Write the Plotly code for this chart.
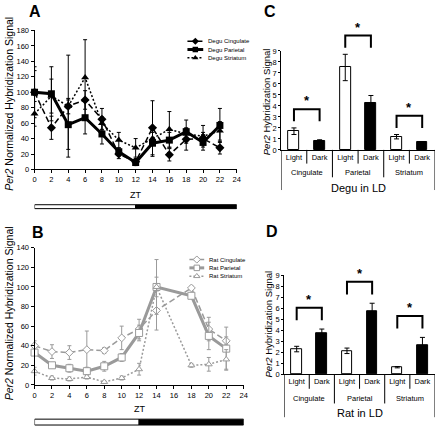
import plotly.graph_objects as go

W, H = 440, 431
FONT = "Liberation Sans, Arial, sans-serif"

# ---------------- data ----------------
# Panel A: Degu, Per2 normalized signal by ZT
zt_degu = [0, 2, 4, 6, 8, 10, 12, 14, 16, 18, 20, 22]
degu_cing = [100, 54, 82, 90, 65, 20, 10, 54, 19, 39, 40, 28]
degu_cing_err = [28, 15, 66, 12, 14, 6, 4, 35, 8, 14, 8, 8]
degu_par = [100, 98, 58, 67, 46, 23, 9, 34, 38, 49, 35, 57]
degu_par_err = [33, 35, 32, 21, 13, 5, 4, 17, 10, 15, 10, 22]
degu_str = [72, 95, 82, 119, 60, 38, 28, 40, 52, 46, 43, 50]
degu_str_err = [16, 22, 10, 49, 8, 10, 12, 8, 23, 8, 14, 12]

# Panel B: Rat
zt_rat = [0, 2, 4, 6, 8, 10, 12, 14, 18, 20, 22]
rat_cing = [40, 34, 33, 36, 35, 48, 57, 76, 99, 57, 45]
rat_cing_err = [5, 7, 7, 19, 3, 12, 10, 20, 2, 12, 4]
rat_par = [33, 20, 17, 14, 19, 28, 53, 100, 91, 50, 37]
rat_par_err = [3, 2, 4, 4, 5, 4, 8, 28, 3, 14, 22]
rat_str = [14, 7, 6, 8, 3, 7, 16, 100, 20, 21, 26]
rat_str_err = [4, 2, 2, 2, 1, 2, 6, 10, 2, 7, 10]

zt_ticks = list(range(0, 25, 2))
light_dark = [("light", 0, 12), ("dark", 12, 24)]

# Panels C / D: Light vs Dark bars
regions = ["Cingulate", "Parietal", "Striatum"]
phases = ["Light", "Dark"]
degu_ld = [1.7, 0.8, 7.5, 4.25, 1.2, 0.68]
degu_ld_err = [0.3, 0.12, 1.2, 0.7, 0.2, 0.07]
rat_ld = [2.28, 3.7, 2.12, 5.7, 0.63, 2.66]
rat_ld_err = [0.25, 0.4, 0.25, 0.75, 0.06, 0.68]

# ---------------- helpers ----------------
def fx(px):
    return px / W


def fy(py):
    return 1 - py / H


GRAY = "#9a9a9a"

fig = go.Figure()

common_axis = dict(
    showline=True, linecolor="black", linewidth=1, showgrid=False, zeroline=False,
    ticks="outside", ticklen=3, tickwidth=1, tickcolor="black",
    tickfont=dict(size=7.5, color="black", family=FONT), fixedrange=True,
)

# domains
A_x = [fx(33), fx(238)]
A_y = [fy(169), fy(27)]
B_x = [fx(33), fx(245)]
B_y = [fy(389), fy(249)]
C_x = [fx(283), fx(439)]
C_y = [fy(149), fy(48)]
D_x = [fx(286), fx(439)]
D_y = [fy(378), fy(277)]

# ---------------- line series ----------------
degu_series = [
    ("Degu Cingulate", degu_cing, degu_cing_err,
     dict(color="black", width=1.5, dash="6px,3px"), dict(symbol="diamond", size=7, color="black")),
    ("Degu Parietal", degu_par, degu_par_err,
     dict(color="black", width=3), dict(symbol="square", size=7, color="black")),
    ("Degu Striatum", degu_str, degu_str_err,
     dict(color="black", width=1.5, dash="2px,2px"), dict(symbol="triangle-up", size=7, color="black")),
]
rat_series = [
    ("Rat Cingulate", rat_cing, rat_cing_err,
     dict(color=GRAY, width=1.5, dash="6px,3px"),
     dict(symbol="diamond", size=6, color="white", line=dict(color=GRAY, width=1))),
    ("Rat Parietal", rat_par, rat_par_err,
     dict(color=GRAY, width=3),
     dict(symbol="square", size=7, color="white", line=dict(color=GRAY, width=1))),
    ("Rat Striatum", rat_str, rat_str_err,
     dict(color=GRAY, width=1.5, dash="2px,2px"),
     dict(symbol="triangle-up", size=6, color="white", line=dict(color=GRAY, width=1))),
]

for name, yv, ev, ln, mk in degu_series:
    fig.add_trace(go.Scatter(
        x=zt_degu, y=yv, mode="lines+markers", name=name, line=ln, marker=mk,
        error_y=dict(type="data", array=ev, color="black", thickness=1, width=2),
        xaxis="x", yaxis="y", showlegend=False, cliponaxis=False))

for name, yv, ev, ln, mk in rat_series:
    fig.add_trace(go.Scatter(
        x=zt_rat, y=yv, mode="lines+markers", name=name, line=ln, marker=mk,
        error_y=dict(type="data", array=ev, color=GRAY, thickness=1, width=2),
        xaxis="x2", yaxis="y2", showlegend=False, cliponaxis=False))


def ann(x, y, text, size, xref="paper", yref="paper", xanchor="center", yanchor="middle", **kw):
    fig.add_annotation(x=x, y=y, xref=xref, yref=yref, text=text, showarrow=False,
                       xanchor=xanchor, yanchor=yanchor,
                       font=dict(size=size, family=FONT, color="black"), **kw)


# ---------------- manual compact legends (overlay axis in pixel units) ----------------
def legend_block(series, x0, x1, ys, xtext):
    for (name, _, _, ln, mk), yrow in zip(series, ys):
        fig.add_trace(go.Scatter(
            x=[x0, (x0 + x1) / 2, x1], y=[yrow] * 3, mode="lines+markers",
            line=ln, marker=dict(mk, opacity=[0, 1, 0], size=5.5),
            xaxis="x5", yaxis="y5", showlegend=False, hoverinfo="skip"))
        ann(fx(xtext), fy(yrow), name, 6, xanchor="left")


legend_block(degu_series, 188, 204, [38, 46.5, 55], 207)
legend_block(rat_series, 190, 205, [261, 269.5, 278], 208)

# ---------------- bars ----------------
bar_x = list(range(len(regions) * len(phases)))
bar_labels = [p for _ in regions for p in phases]
bar_colors = ["white" if p == "Light" else "black" for p in bar_labels]

for vals, errs, xa, ya in [(degu_ld, degu_ld_err, "x3", "y3"), (rat_ld, rat_ld_err, "x4", "y4")]:
    fig.add_trace(go.Bar(
        x=bar_x, y=vals, width=0.42, marker=dict(color=bar_colors, line=dict(color="black", width=1)),
        error_y=dict(type="data", array=errs, color="black", thickness=1, width=2.5),
        xaxis=xa, yaxis=ya, showlegend=False))

# ---------------- layout axes ----------------
fig.update_layout(
    width=W, height=H, margin=dict(l=0, r=0, t=0, b=0),
    paper_bgcolor="white", plot_bgcolor="rgba(0,0,0,0)",
    font=dict(family=FONT, color="black"),
    xaxis=dict(common_axis, domain=A_x, range=[0, 24], tickvals=zt_ticks, anchor="y"),
    yaxis=dict(common_axis, domain=A_y, range=[0, 180], dtick=20, anchor="x"),
    xaxis2=dict(common_axis, domain=B_x, range=[0, 24], tickvals=zt_ticks, anchor="y2"),
    yaxis2=dict(common_axis, domain=B_y, range=[0, 140], dtick=20, anchor="x2"),
    xaxis3=dict(common_axis, domain=C_x, range=[-0.5, 5.5], tickvals=bar_x, ticktext=bar_labels,
                ticks="", anchor="y3", tickfont=dict(size=7.5, family=FONT, color="black")),
    yaxis3=dict(common_axis, domain=C_y, range=[0, 9], dtick=1, anchor="x3", ticklen=2),
    xaxis4=dict(common_axis, domain=D_x, range=[-0.5, 5.5], tickvals=bar_x, ticktext=bar_labels,
                ticks="", anchor="y4", tickfont=dict(size=7.5, family=FONT, color="black")),
    yaxis4=dict(common_axis, domain=D_y, range=[0, 9], dtick=1, anchor="x4", ticklen=2),
    xaxis5=dict(domain=[0, 1], range=[0, W], visible=False, fixedrange=True, anchor="y5"),
    yaxis5=dict(domain=[0, 1], range=[H, 0], visible=False, fixedrange=True, anchor="x5"),
    bargap=0,
)

shapes = []
# light/dark bars under A and B
for xref, (py0, py1) in [("x", (205, 209)), ("x2", (424, 430))]:
    for phase, s, e in light_dark:
        shapes.append(dict(type="rect", xref=xref, yref="paper", x0=s, x1=e,
                           y0=fy(py1), y1=fy(py0),
                           fillcolor="white" if phase == "light" else "black",
                           line=dict(color="black", width=1)))


# category separators and brackets for C / D
def bar_panel_deco(xdom, ydom, axis_py, inner_py, group_py, outer_py, vals, errs, gap, height, xref):
    n = len(bar_x)
    for b in [0.5, 2.5, 4.5]:
        shapes.append(dict(type="line", xref=xref, yref="paper", x0=b, x1=b,
                           y0=fy(axis_py), y1=fy(inner_py), line=dict(color="black", width=1)))
    for b in [1.5, 3.5]:
        shapes.append(dict(type="line", xref=xref, yref="paper", x0=b, x1=b,
                           y0=fy(axis_py), y1=fy(group_py), line=dict(color="black", width=1)))
    for b in [-0.5, 5.5]:
        shapes.append(dict(type="line", xref=xref, yref="paper", x0=b, x1=b,
                           y0=fy(axis_py), y1=fy(outer_py), line=dict(color="black", width=1)))

    def yp(v):
        return ydom[0] + v / 9 * (ydom[1] - ydom[0])

    def xp(i):
        return xdom[0] + (i + 0.5) / n * (xdom[1] - xdom[0])

    for g in range(len(regions)):
        i0, i1 = 2 * g, 2 * g + 1
        top_bar = max(vals[i0] + errs[i0], vals[i1] + errs[i1])
        yb = top_bar + gap
        yt = yb + height
        shapes.append(dict(type="path", xref="paper", yref="paper",
                           path=f"M {xp(i0)},{yp(yb)} L {xp(i0)},{yp(yt)} L {xp(i1)},{yp(yt)} L {xp(i1)},{yp(yb)}",
                           line=dict(color="black", width=2)))
        ann((xp(i0) + xp(i1)) / 2, yp(yt + 0.75), "<b>*</b>", 13)


bar_panel_deco(C_x, C_y, 149, 163, 177, 190, degu_ld, degu_ld_err, 0.6, 1.1, "x3")
bar_panel_deco(D_x, D_y, 378, 393, 408, 422, rat_ld, rat_ld_err, 0.8, 1.15, "x4")

fig.update_layout(shapes=shapes)

# group labels and panel titles for bars
for xref, py_grp, py_title, title in [("x3", 172, 188, "Degu in LD"), ("x4", 403, 418, "Rat in LD")]:
    for g, reg in enumerate(regions):
        ann(2 * g + 0.5, fy(py_grp), reg, 7.5, xref=xref)
    ann(2.5, fy(py_title), title, 11, xref=xref)

# ZT titles
for xref, py in [("x", 195), ("x2", 414)]:
    ann(12, fy(py), "ZT", 9, xref=xref)

# y-axis titles
for px, py, txt, size in [
    (7, 102, "<i>Per2</i> Normalized Hybridization Signal", 10.5),
    (7, 316, "<i>Per2</i> Normalized Hybridization Signal", 10.5),
    (269, 100, "<i>Per2</i> Hybridization Signal", 9.5),
    (270, 327, "<i>Per2</i> Hybridization Signal", 9.5),
]:
    ann(fx(px), fy(py), txt, size, textangle=-90)

# panel letters
for px, py, letter in [(33, 8, "A"), (37, 233, "B"), (272, 8, "C"), (274, 232, "D")]:
    ann(fx(px), fy(py), f"<b>{letter}</b>", 16)

fig.write_html("out.html", config={"displayModeBar": False},
               post_script="document.body.style.margin='0';document.body.style.overflow='hidden';")
